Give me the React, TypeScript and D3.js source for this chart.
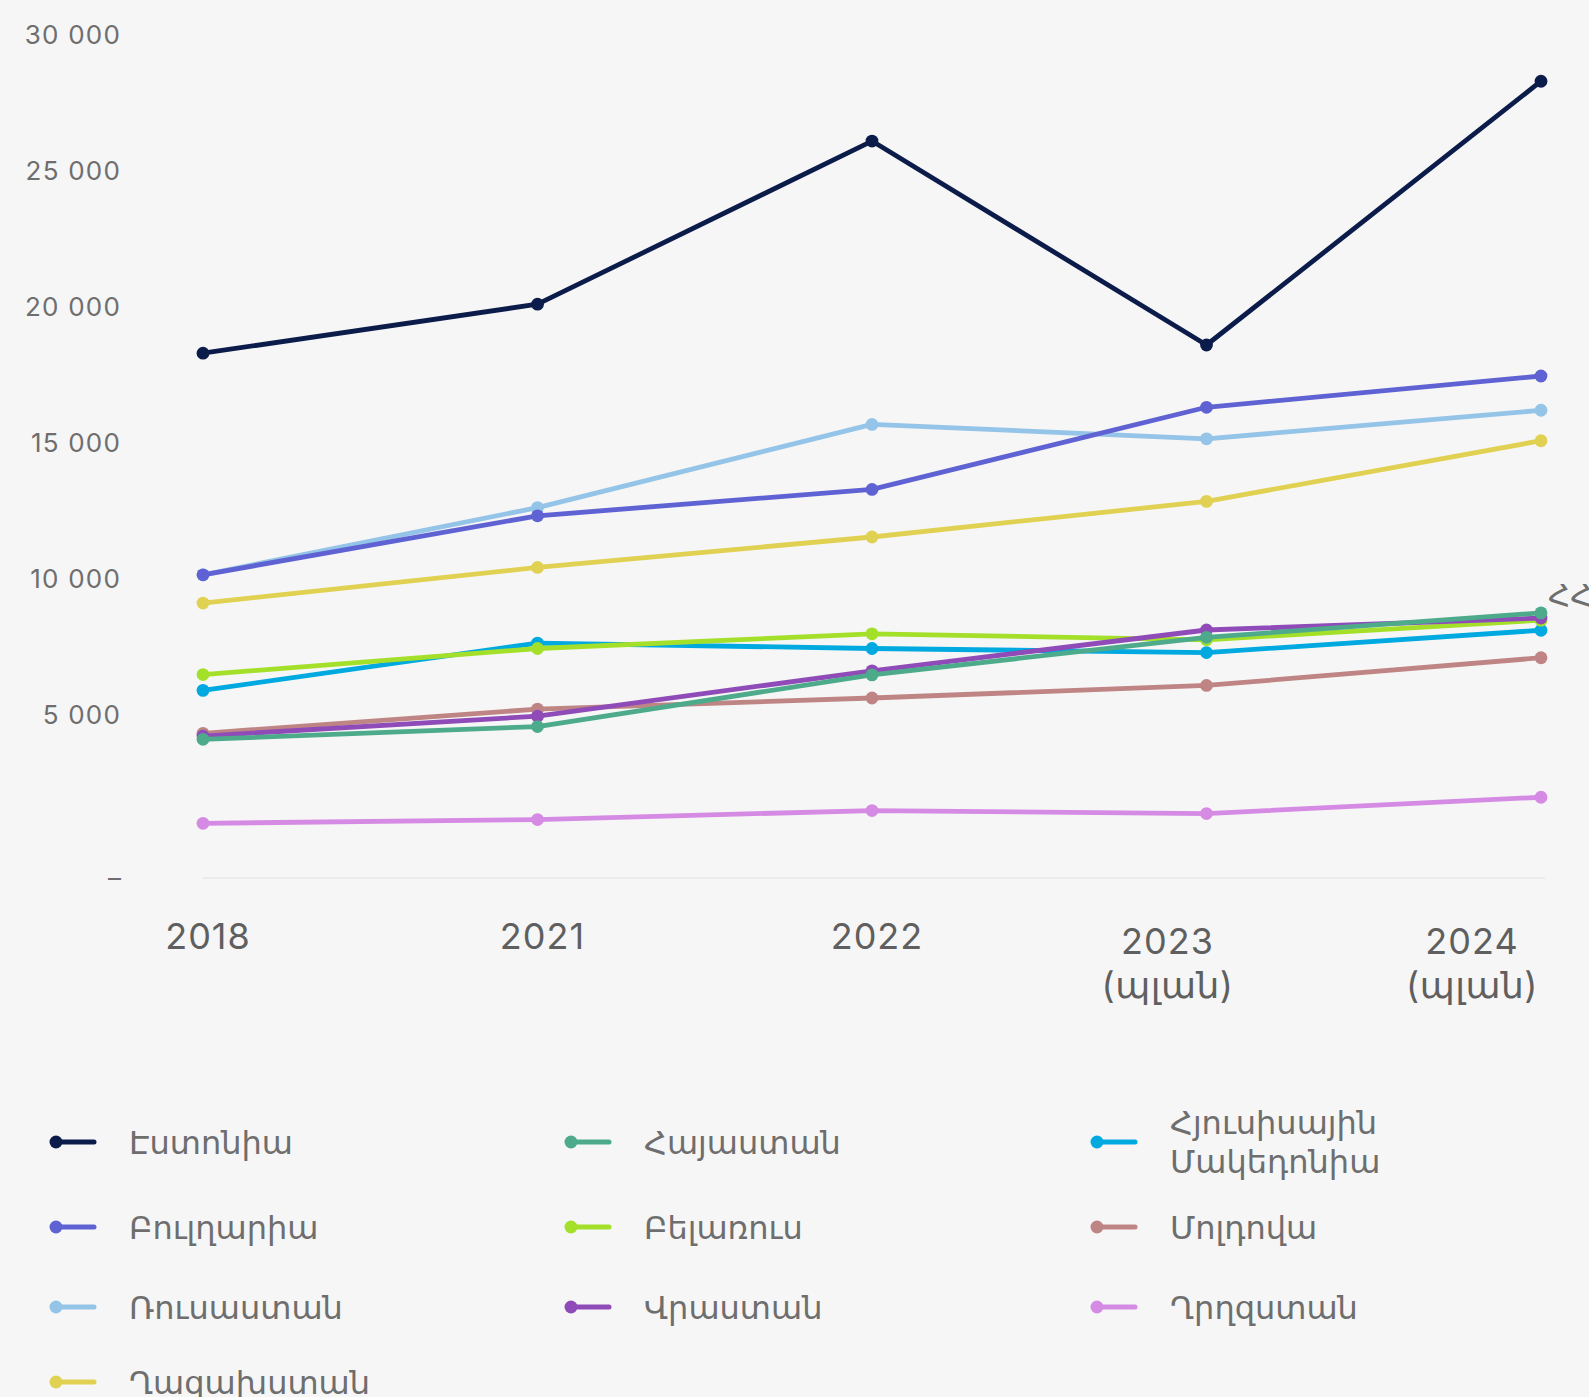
import React, { useEffect } from "react";
import * as d3 from "d3";

// ---------- data ----------
const categories = ["2018", "2021", "2022", "2023 (պլան)", "2024 (պլան)"];

const estonia = [18300, 20100, 26100, 18600, 28300];
const armenia = [4100, 4570, 6470, 7850, 8750];
const northMacedonia = [5900, 7640, 7440, 7290, 8110];
const bulgaria = [10150, 12320, 13290, 16310, 17460];
const belarus = [6480, 7440, 7980, 7760, 8480];
const moldova = [4320, 5210, 5620, 6080, 7100];
const russia = [10150, 12620, 15680, 15150, 16200];
const georgia = [4220, 4950, 6620, 8120, 8560];
const kyrgyzstan = [1010, 1150, 1480, 1370, 1970];
const kazakhstan = [9110, 10420, 11540, 12850, 15080];

const seriesNames = [
  "Էստոնիա",
  "Հայաստան",
  "Հյուսիսային Մակեդոնիա",
  "Բուլղարիա",
  "Բելառուս",
  "Մոլդովա",
  "Ռուսաստան",
  "Վրաստան",
  "Ղրղզստան",
  "Ղազախստան",
];
const seriesValues = [
  estonia,
  armenia,
  northMacedonia,
  bulgaria,
  belarus,
  moldova,
  russia,
  georgia,
  kyrgyzstan,
  kazakhstan,
];
const seriesColors = [
  "#0c1c4a",
  "#4dab8c",
  "#00a9df",
  "#5f62d2",
  "#a4e02a",
  "#bf8584",
  "#94c4e7",
  "#8f4bb8",
  "#d58be3",
  "#e1d152",
];
// bottom -> top
const drawOrder = [8, 9, 5, 2, 4, 7, 1, 6, 3, 0];

const yTickValues = [5000, 10000, 15000, 20000, 25000, 30000];
const yMinLabel = "–";
const annotationText = "ՀՀ";

// ---------- component ----------
export default function App() {
  useEffect(() => {
    document.body.style.margin = "0";
    document.body.style.background = "#f6f6f6";
  }, []);

  const W = 1589;
  const H = 1397;
  const plotLeft = 203;
  const plotRight = 1541;

  const x = d3.scalePoint<string>().domain(categories).range([plotLeft, plotRight]);
  const y = d3.scaleLinear().domain([-1000, 30000]).range([878, 35]);

  const line = d3
    .line<number>()
    .x((_, i) => x(categories[i]) as number)
    .y((d) => y(d));

  const fmt = (v: number) => d3.format(",")(v).replace(/,/g, " ");

  const numFont = "Inter, 'Open Sans', 'DejaVu Sans', sans-serif";
  const textFont = "'DejaVu Sans', 'Open Sans', sans-serif";

  // legend layout
  const legendCols = [56, 571, 1097];
  const legendRows = [1142, 1227, 1307, 1382];
  const legendLine = 38.5;

  // x label layout
  const xLabelFont = 36;
  const xLineGap = 44.5;
  const wrapShift = -39;
  const wrapHalfWidth = 69;

  return (
    <svg
      width={W}
      height={H}
      style={{ position: "absolute", left: 0, top: 0, display: "block" }}
    >
      <rect x={0} y={0} width={W} height={H} fill="#f6f6f6" />

      {/* baseline */}
      <line
        x1={plotLeft}
        x2={plotRight + 4}
        y1={y(-1000)}
        y2={y(-1000)}
        stroke="#ebebeb"
        strokeWidth={2}
      />

      {/* y tick labels */}
      {yTickValues.map((v) => (
        <text
          key={v}
          x={121}
          y={y(v)}
          dy="0.36em"
          textAnchor="end"
          fontFamily={numFont}
          fontSize={26}
          fontWeight={400}
          letterSpacing={1.2}
          fill="#6e6e6e"
        >
          {fmt(v)}
        </text>
      ))}
      <text
        x={121}
        y={y(-1000)}
        dy="0.36em"
        textAnchor="end"
        fontFamily={numFont}
        fontSize={26}
        fontWeight={400}
        fill="#6e6e6e"
      >
        {yMinLabel}
      </text>

      {/* x tick labels */}
      {categories.map((c) => {
        const parts = c.split(" ");
        const px = x(c) as number;
        if (parts.length === 1) {
          return (
            <text
              key={c}
              x={px + 5}
              y={936}
              dy="0.36em"
              textAnchor="middle"
              fontFamily={numFont}
              fontSize={xLabelFont}
              fontWeight={400}
              letterSpacing={1}
              fill="#5f5f5f"
            >
              {c}
            </text>
          );
        }
        const cx = Math.min(px + wrapShift, plotRight - wrapHalfWidth);
        return (
          <g key={c}>
            {parts.map((p, i) => (
              <text
                key={p}
                x={cx}
                y={941 + i * xLineGap}
                dy="0.36em"
                textAnchor="middle"
                fontFamily={numFont}
                fontSize={xLabelFont}
                fontWeight={400}
                letterSpacing={i === 0 ? 1 : 0.5}
                fill="#5f5f5f"
              >
                {p}
              </text>
            ))}
          </g>
        );
      })}

      {/* lines */}
      {drawOrder.map((si) => (
        <g key={seriesNames[si]}>
          <path
            d={line(seriesValues[si]) || ""}
            fill="none"
            stroke={seriesColors[si]}
            strokeWidth={4.8}
            strokeLinejoin="round"
            strokeLinecap="round"
          />
          {seriesValues[si].map((v, i) => (
            <circle
              key={i}
              cx={x(categories[i]) as number}
              cy={y(v)}
              r={6.4}
              fill={seriesColors[si]}
            />
          ))}
        </g>
      ))}

      {/* annotation at right edge */}
      <text
        x={plotRight + 7}
        y={y(armenia[4]) - 18}
        dy="0.36em"
        fontFamily={textFont}
        fontSize={31}
        fill="#6e6e6e"
      >
        {annotationText}
      </text>

      {/* legend */}
      {seriesNames.map((name, i) => {
        const col = i % 3;
        const row = Math.floor(i / 3);
        const lx = legendCols[col];
        const ly = legendRows[row];
        const words = name.split(" ");
        return (
          <g key={name}>
            <line
              x1={lx}
              x2={lx + 38}
              y1={ly}
              y2={ly}
              stroke={seriesColors[i]}
              strokeWidth={5}
              strokeLinecap="round"
            />
            <circle cx={lx} cy={ly} r={6.5} fill={seriesColors[i]} />
            {words.map((w, k) => (
              <text
                key={w}
                x={lx + 73}
                y={ly + (k - (words.length - 1) / 2) * legendLine}
                dy="0.36em"
                fontFamily={textFont}
                fontSize={32}
                fill="#6e6e6e"
              >
                {w}
              </text>
            ))}
          </g>
        );
      })}
    </svg>
  );
}
